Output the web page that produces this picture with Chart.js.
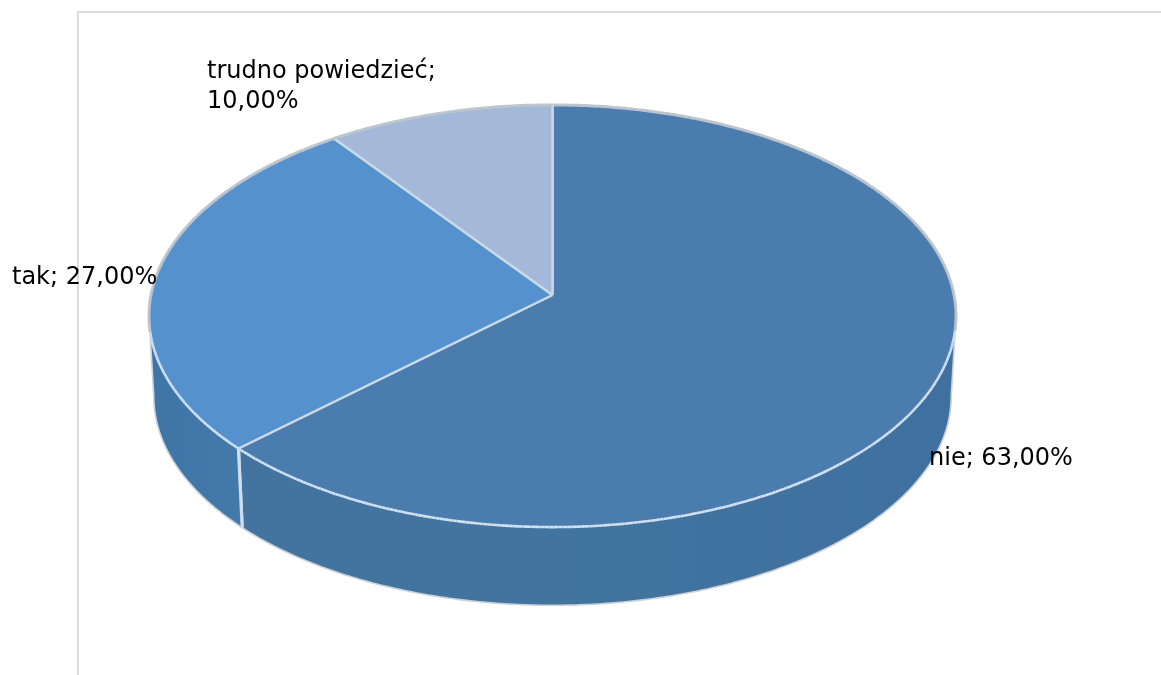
<!DOCTYPE html>
<html lang="pl">
<head>
<meta charset="utf-8">
<title>Wykres kołowy</title>
<style>
  html, body { margin: 0; padding: 0; background: #fff; }
  canvas { display: block; }
</style>
<script src="https://cdn.jsdelivr.net/npm/chart.js@4/dist/chart.umd.js"></script>
</head>
<body>
<canvas id="pie" width="1161" height="675"></canvas>
<script>
// Chart data
const categories = ['nie', 'tak', 'trudno powiedzieć'];
const shares = [63, 27, 10];
const topColors = ['#4a7cae', '#5592cd', '#a4b9d9'];
const wallColors = ['#42749f', '#4276a8', '#7f94b0'];

// Perspective view of the pie's disc: the apex stays at (CX, CY),
// the near edge is drawn larger than the far edge.
const CX = 552.5, CY = 295, RX = 401.5, RY = 209, TILT = 0.0995;
const DEPTH = 81, WALL_SCALE = 0.988;

function project(angle, scale = 1, drop = 0) {
  const u = Math.cos(angle), v = Math.sin(angle), w = 1 - TILT * v;
  return { x: CX + scale * RX * u / w, y: CY + drop + scale * RY * v / w };
}

function tracePoints(ctx, from, to, scale, drop, moveFirst) {
  const steps = Math.max(2, Math.ceil(Math.abs(to - from) / 0.01));
  for (let i = 0; i <= steps; i++) {
    const p = project(from + (to - from) * i / steps, scale, drop);
    if (i === 0 && moveFirst) ctx.moveTo(p.x, p.y); else ctx.lineTo(p.x, p.y);
  }
}

// The rim faces the viewer only between these two angles
const FRONT_START = Math.asin(TILT);
const FRONT_END = Math.PI - FRONT_START;

class TiltedArc extends Chart.ArcElement {
  static id = 'tiltedArc';

  draw(ctx) {
    const start = this.startAngle, end = this.endAngle;
    const index = this.$context ? this.$context.dataIndex : 0;
    ctx.save();
    this.drawWall(ctx, start, end, index);
    this.drawTop(ctx, start, end);
    ctx.restore();
  }

  frontSpans(start, end) {
    const spans = [];
    for (const shift of [0, 2 * Math.PI, -2 * Math.PI]) {
      const a = Math.max(start, FRONT_START + shift);
      const b = Math.min(end, FRONT_END + shift);
      if (b > a) spans.push([a, b]);
    }
    return spans;
  }

  drawWall(ctx, start, end, index) {
    for (const [a, b] of this.frontSpans(start, end)) {
      ctx.beginPath();
      tracePoints(ctx, a, b, 1, 0, true);
      tracePoints(ctx, b, a, WALL_SCALE, DEPTH, false);
      ctx.closePath();
      const shade = ctx.createLinearGradient(CX - RX, 0, CX + RX, 0);
      shade.addColorStop(0, index === 1 ? '#3f74a6' : wallColors[index]);
      shade.addColorStop(0.12, index === 1 ? '#4479ac' : wallColors[index]);
      shade.addColorStop(0.5, wallColors[index]);
      shade.addColorStop(1, '#3f70a0');
      ctx.fillStyle = shade;
      ctx.fill();

      // soft outline along the lower edge of the wall
      ctx.beginPath();
      tracePoints(ctx, a, b, WALL_SCALE, DEPTH, true);
      ctx.lineWidth = 1.6;
      ctx.strokeStyle = '#c9d1d9';
      ctx.stroke();

      // seam between neighbouring slices
      for (const edge of [a, b]) {
        if (Math.abs(edge - FRONT_START) < 1e-6 || Math.abs(edge - FRONT_END) < 1e-6) continue;
        const p = project(edge), q = project(edge, WALL_SCALE, DEPTH);
        ctx.beginPath();
        ctx.moveTo(p.x, p.y);
        ctx.lineTo(q.x, q.y);
        ctx.lineWidth = 3.2;
        ctx.strokeStyle = '#cfdeee';
        ctx.stroke();
      }

      // silhouette of the wall at the far sides
      for (const edge of [a, b]) {
        if (Math.abs(edge - FRONT_START) > 1e-6 && Math.abs(edge - FRONT_END) > 1e-6) continue;
        const p = project(edge), q = project(edge, WALL_SCALE, DEPTH);
        ctx.beginPath();
        ctx.moveTo(p.x, p.y);
        ctx.lineTo(q.x, q.y);
        ctx.lineWidth = 1.6;
        ctx.strokeStyle = '#c9d1d9';
        ctx.stroke();
      }
    }
  }

  drawTop(ctx, start, end) {
    ctx.beginPath();
    ctx.moveTo(CX, CY);
    tracePoints(ctx, start, end, 1, 0, false);
    ctx.closePath();
    ctx.fillStyle = this.options.backgroundColor;
    ctx.fill();
    ctx.lineJoin = 'round';

    // spokes
    for (const edge of [start, end]) {
      const p = project(edge);
      ctx.beginPath();
      ctx.moveTo(CX, CY);
      ctx.lineTo(p.x, p.y);
      ctx.lineWidth = 2.4;
      ctx.strokeStyle = '#cbd8e6';
      ctx.stroke();
    }

    // rim: bright on the near side, grey on the far side
    const N = Math.ceil((end - start) / 0.01);
    for (let i = 0; i < N; i++) {
      const a = start + (end - start) * i / N, b = start + (end - start) * (i + 1) / N;
      const mid = (a + b) / 2, near = Math.sin(mid) > 0.17;
      const p = project(a), q = project(b);
      ctx.beginPath();
      ctx.moveTo(p.x, p.y);
      ctx.lineTo(q.x, q.y);
      ctx.lineWidth = near ? 2.6 : 3;
      ctx.strokeStyle = near ? '#d2e1f1' : '#bcc4cd';
      ctx.stroke();
    }
  }
}

class TiltedPieController extends Chart.PieController {
  static id = 'tiltedPie';
  static defaults = { dataElementType: 'tiltedArc' };
}

Chart.register(TiltedArc, TiltedPieController);

const formatShare = v => v.toFixed(2).replace('.', ',') + '%';

// Thin frame behind the plot
const framePlugin = {
  id: 'frame',
  beforeDraw(chart) {
    const { ctx, width, height } = chart;
    ctx.save();
    ctx.strokeStyle = '#dcdcdc';
    ctx.lineWidth = 2;
    ctx.beginPath();
    ctx.moveTo(78, height);
    ctx.lineTo(78, 12);
    ctx.lineTo(width, 12);
    ctx.stroke();
    ctx.restore();
  }
};

// Category and value text beside each slice
const sliceLabelPlugin = {
  id: 'sliceLabels',
  afterDatasetsDraw(chart) {
    const { ctx } = chart;
    const spots = [
      { x: 929, y: 465, wrap: false },
      { x: 12, y: 284, wrap: false },
      { x: 207, y: 78, wrap: true }
    ];
    ctx.save();
    ctx.fillStyle = '#000';
    ctx.font = '24px "DejaVu Sans"';
    ctx.textAlign = 'left';
    ctx.textBaseline = 'alphabetic';
    categories.forEach((name, i) => {
      const s = spots[i], value = formatShare(shares[i]);
      if (s.wrap) {
        ctx.fillText(name + ';', s.x, s.y);
        ctx.fillText(value, s.x, s.y + 30);
      } else {
        ctx.fillText(name + '; ' + value, s.x, s.y);
      }
    });
    ctx.restore();
  }
};

new Chart(document.getElementById('pie'), {
  type: 'tiltedPie',
  data: {
    labels: categories,
    datasets: [{ data: shares, backgroundColor: topColors, borderWidth: 0 }]
  },
  options: {
    responsive: false,
    animation: false,
    plugins: { legend: { display: false }, tooltip: { enabled: false } }
  },
  plugins: [framePlugin, sliceLabelPlugin]
});
</script>
</body>
</html>
